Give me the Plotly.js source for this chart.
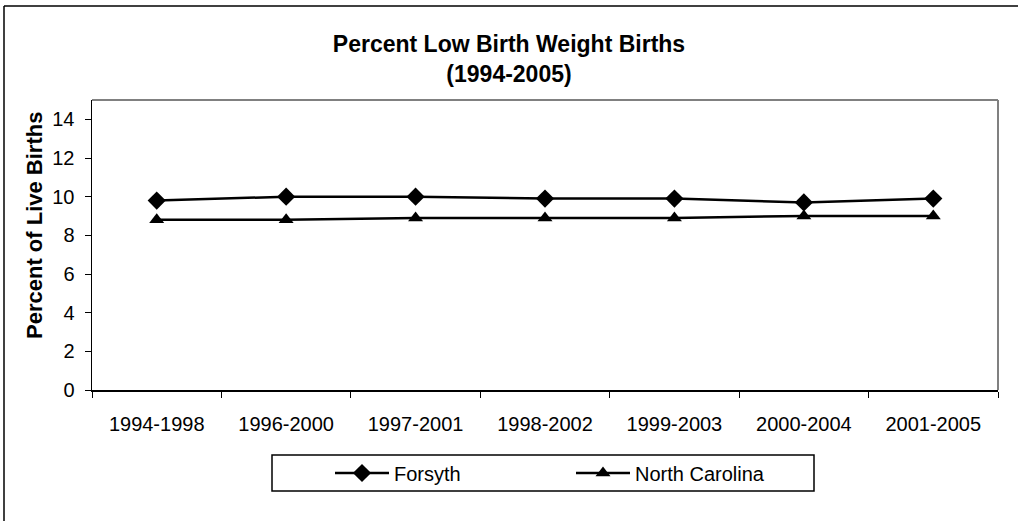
<!DOCTYPE html>
<html>
<head>
<meta charset="utf-8">
<script src="https://cdn.plot.ly/plotly-3.0.1.min.js"></script>
<style>html,body{margin:0;padding:0;background:#fff;}#chart{width:1018px;height:521px;}</style>
</head>
<body>
<div id="chart"></div>
<script>
const categories = ["1994-1998","1996-2000","1997-2001","1998-2002","1999-2003","2000-2004","2001-2005"];
const forsyth = [9.8, 10.0, 10.0, 9.9, 9.9, 9.7, 9.9];
const northCarolina = [8.8, 8.8, 8.9, 8.9, 8.9, 9.0, 9.0];
const yTicks = [0, 2, 4, 6, 8, 10, 12, 14];

const FONT = "Liberation Sans, Arial, sans-serif";

const traces = [
  {
    x: categories, y: forsyth, name: "Forsyth", type: "scatter", mode: "lines+markers",
    line: {color: "#000", width: 2.5},
    marker: {symbol: "diamond", size: 14, color: "#000"}
  },
  {
    x: categories, y: northCarolina, name: "North Carolina", type: "scatter", mode: "lines+markers",
    line: {color: "#000", width: 2.5},
    marker: {symbol: "triangle-up", size: 13, color: "#000"}
  }
];

const L = 92, R = 998, T = 100, B = 390, W = 1018, H = 521;
const px = v => (v - L) / (R - L);
const py = v => (B - v) / (B - T);

const layout = {
  width: W, height: H,
  margin: {l: L, r: W - R, t: T, b: H - B},
  paper_bgcolor: "#fff", plot_bgcolor: "#fff",
  font: {family: FONT, color: "#000", size: 20},
  title: {
    text: "<b>Percent Low Birth Weight Births<br>(1994-2005)</b>",
    font: {family: FONT, size: 23, color: "#000"},
    x: 0.5, xanchor: "center", y: 1 - 52 / H, yanchor: "middle", yref: "container"
  },
  showlegend: true,
  legend: {
    orientation: "h", x: px(330), y: py(473), xanchor: "left", yanchor: "middle",
    bgcolor: "rgba(0,0,0,0)", borderwidth: 0,
    font: {family: FONT, size: 20, color: "#000"},
    entrywidth: 172, entrywidthmode: "pixels", itemwidth: 54
  },
  xaxis: {
    type: "category", range: [-0.5, 6.5], tickson: "boundaries",
    showline: true, linecolor: "#000", linewidth: 1.5,
    ticks: "outside", ticklen: 6, tickcolor: "#000", tickwidth: 1,
    showgrid: false, zeroline: false, fixedrange: true,
    tickfont: {family: FONT, size: 20, color: "#000"}, ticklabelstandoff: 15
  },
  yaxis: {
    range: [0, 15], tickvals: yTicks, ticktext: yTicks.map(String),
    showline: true, linecolor: "#000", linewidth: 1.5,
    ticks: "outside", ticklen: 6, tickcolor: "#000", tickwidth: 1,
    showgrid: false, zeroline: false, fixedrange: true,
    tickfont: {family: FONT, size: 20, color: "#000"}, ticklabelstandoff: 6
  },
  annotations: [
    {
      text: "<b>Percent of Live Births</b>", textangle: -90,
      xref: "paper", yref: "paper", x: px(34), y: py(226),
      xanchor: "center", yanchor: "middle", showarrow: false,
      font: {family: FONT, size: 22, color: "#000"}
    }
  ],
  shapes: [
    {type: "line", xref: "paper", yref: "paper", x0: 0, x1: 1, y0: 1, y1: 1, line: {color: "#808080", width: 2}},
    {type: "line", xref: "paper", yref: "paper", x0: 1, x1: 1, y0: 0, y1: 1, line: {color: "#808080", width: 2}},
    {type: "rect", xref: "paper", yref: "paper", x0: px(272), x1: px(814), y0: py(491), y1: py(455), line: {color: "#000", width: 1.5}},
    {type: "line", xref: "paper", yref: "paper", x0: px(4), x1: px(1018), y0: py(6), y1: py(6), line: {color: "#000", width: 1.5}},
    {type: "line", xref: "paper", yref: "paper", x0: px(4), x1: px(4), y0: py(6), y1: py(521), line: {color: "#000", width: 1.5}}
  ]
};

Plotly.newPlot("chart", traces, layout, {displayModeBar: false, staticPlot: true});
</script>
</body>
</html>
